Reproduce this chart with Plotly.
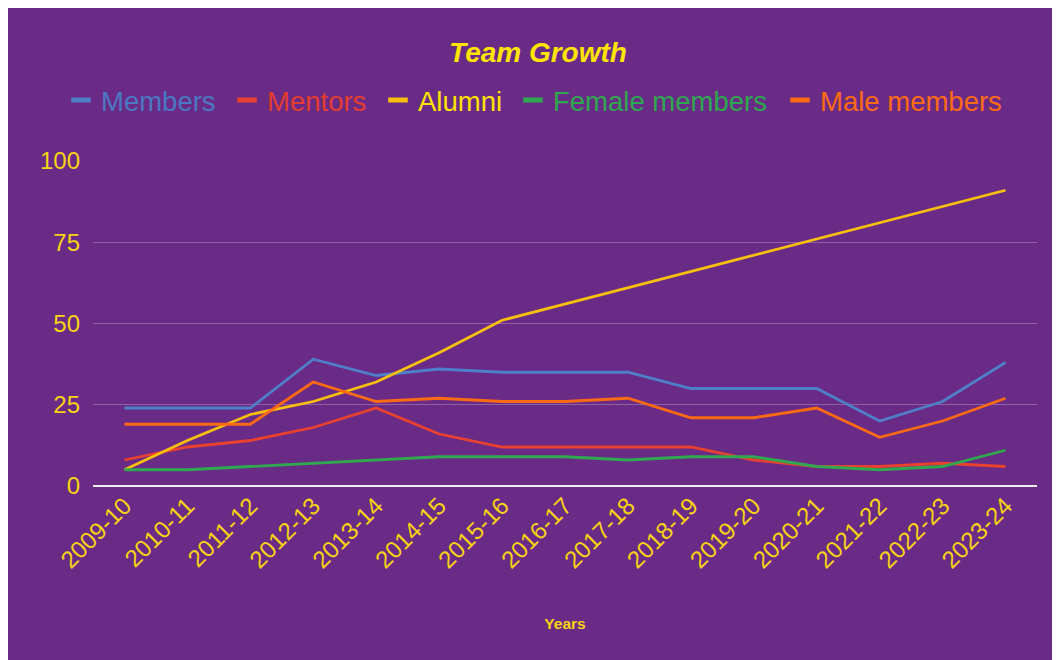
import plotly.graph_objects as go

years = ["2009-10", "2010-11", "2011-12", "2012-13", "2013-14", "2014-15", "2015-16",
         "2016-17", "2017-18", "2018-19", "2019-20", "2020-21", "2021-22", "2022-23", "2023-24"]
members = [24, 24, 24, 39, 34, 36, 35, 35, 35, 30, 30, 30, 20, 26, 38]
mentors = [8, 12, 14, 18, 24, 16, 12, 12, 12, 12, 8, 6, 6, 7, 6]
alumni = [5, 14, 22, 26, 32, 41, 51, 56, 61, 66, 71, 76, 81, 86, 91]
female_members = [5, 5, 6, 7, 8, 9, 9, 9, 8, 9, 9, 6, 5, 6, 11]
male_members = [19, 19, 19, 32, 26, 27, 26, 26, 27, 21, 21, 24, 15, 20, 27]
y_ticks = [0, 25, 50, 75, 100]

series = [
    ("Members", members, "#4f7fc8", "#4a78c2"),
    ("Mentors", mentors, "#e9412f", "#e23d2e"),
    ("Alumni", alumni, "#f8c00e", "#ffe300"),
    ("Female members", female_members, "#2fa84f", "#2ea84e"),
    ("Male members", male_members, "#fb6a14", "#fb6a14"),
]
# legend entry left positions (pixels in figure) so the row spacing matches
legend_px = [53, 219, 370, 505, 772]

BG = "#6a2b86"
FONT = "Arial, 'Liberation Sans', sans-serif"
TICK = "#f7d413"
W, H = 1060, 660

fig = go.Figure()
for name, vals, col, tcol in series:
    fig.add_trace(go.Scatter(x=years, y=vals, mode="lines", name=name,
                             line=dict(color=col, width=2.8), showlegend=False))

legends = {}
for i, (name, vals, col, tcol) in enumerate(series):
    key = "legend" if i == 0 else f"legend{i + 1}"
    fig.add_trace(go.Scatter(x=[None], y=[None], mode="markers",
                             name=f"<span style='color:{tcol}'>{name}</span>",
                             legend=key,
                             marker=dict(symbol="line-ew-open", size=14, color=col,
                                         line=dict(color=col, width=5)),
                             showlegend=True))
    legends[key] = dict(orientation="h", xref="container", yref="container",
                        x=legend_px[i] / W, xanchor="left", y=1 - 92 / H, yanchor="middle",
                        font=dict(size=27.5, family=FONT), bgcolor="rgba(0,0,0,0)",
                        itemclick=False)

fig.update_layout(
    width=W, height=H,
    paper_bgcolor=BG, plot_bgcolor=BG,
    margin=dict(l=85, r=31, t=153, b=182),
    font=dict(family=FONT, color=TICK),
    title=dict(text="<b><i>Team Growth</i></b>", x=0.5, xanchor="center",
               y=1 - 44 / H, yanchor="middle", yref="container",
               font=dict(size=28, color="#ffe500", family=FONT)),
    showlegend=True,
    **legends,
)
fig.update_xaxes(type="category", range=[-0.5, 14.5], tickangle=-45,
                 tickfont=dict(size=24, color=TICK), showgrid=False, showline=False,
                 ticks="", automargin=False,
                 title=dict(text="<b>Years</b>", font=dict(size=15.5, color="#f7d413"), standoff=45))
fig.update_yaxes(range=[0, 100], tickvals=y_ticks, tickfont=dict(size=24, color=TICK),
                 gridcolor="rgba(255,255,255,0.25)", gridwidth=1,
                 zeroline=True, zerolinecolor="#eeeeee", zerolinewidth=2,
                 showline=False, ticks="", ticklabelstandoff=12, automargin=False)

fig.write_html("out.html")
